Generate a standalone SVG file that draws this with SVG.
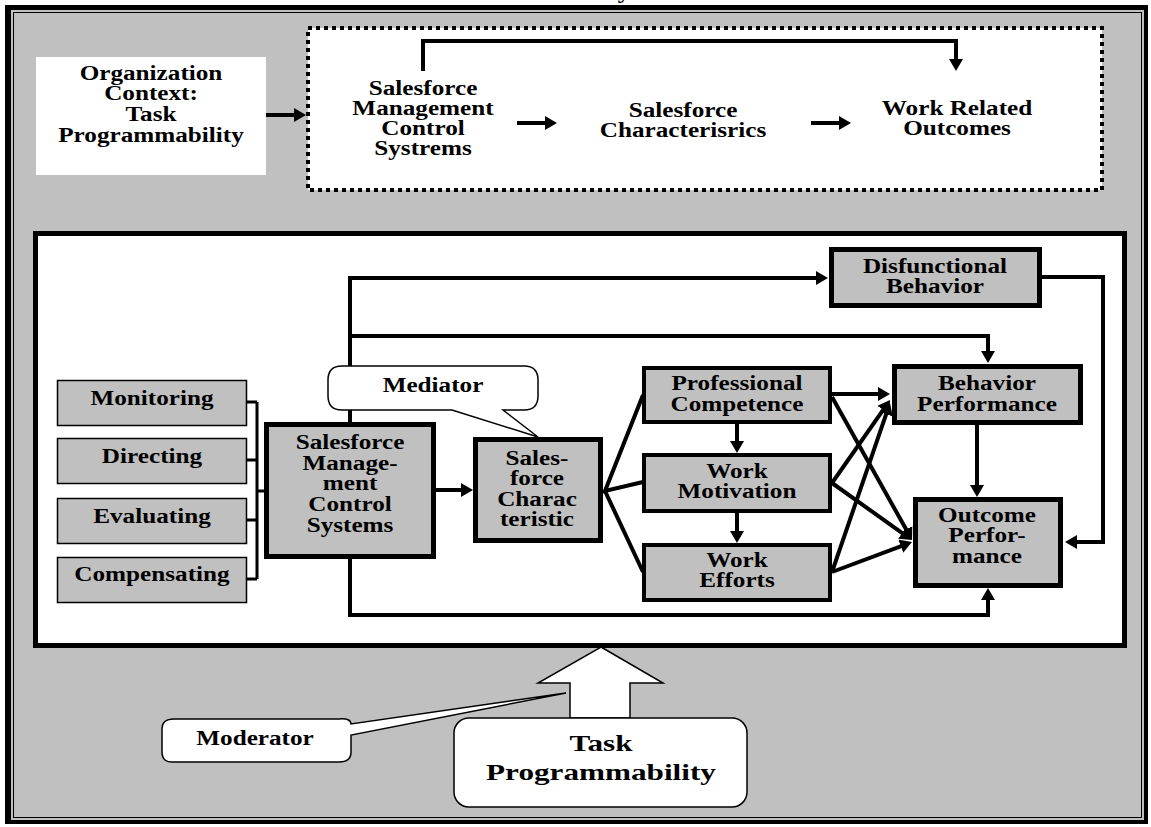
<svg xmlns="http://www.w3.org/2000/svg" width="1151" height="827" viewBox="0 0 1151 827">
  <defs>
    <style>
      .t { font-family: "Liberation Serif", "Times New Roman", serif; font-weight: bold; font-size: 20px; text-anchor: middle; fill: #000; }
      .big { font-size: 24px; }
      .box { fill: #c0c0c0; stroke: #000; stroke-width: 5; }
      .mid { fill: #c0c0c0; stroke: #000; stroke-width: 4; }
      .sm { fill: #c0c0c0; stroke: #000; stroke-width: 1.5; }
      .ln { fill: none; stroke: #000; stroke-width: 4; }
      .ln3 { fill: none; stroke: #000; stroke-width: 3; }
      .call { fill: #fff; stroke: #000; stroke-width: 1.5; }
    </style>
    <marker id="ah" viewBox="0 0 12 14" markerWidth="12" markerHeight="14" refX="7" refY="7" orient="auto" markerUnits="userSpaceOnUse">
      <path d="M0,0 L12,7 L0,14 Z" fill="#000"/>
    </marker>
  </defs>

  <!-- page frame -->
  <g id="frame">
    <rect x="5" y="5" width="1143" height="819" fill="#c0c0c0"/>
    <rect x="5" y="5" width="6" height="819" fill="#000"/>
    <rect x="5" y="5" width="1143" height="5" fill="#000"/>
    <rect x="1144" y="5" width="4" height="819" fill="#000"/>
    <rect x="5" y="820" width="1143" height="4" fill="#000"/>
    <rect x="13.5" y="12.5" width="1128" height="805" fill="none" stroke="#000" stroke-width="1"/>
  </g>
  <text class="t" transform="matrix(1.26 0 0 1 624 0)" x="0" y="-2">y</text>

  <!-- upper overview -->
  <g id="org-context">
    <rect x="36" y="57" width="230" height="118" fill="#fff"/>
    <text class="t" transform="matrix(1.26 0 0 1 151 0)"><tspan x="0" y="80">Organization</tspan><tspan x="0" y="100">Context:</tspan><tspan x="0" y="121">Task</tspan><tspan x="0" y="142">Programmability</tspan></text>
  </g>
  <g id="overview">
    <rect x="308" y="28" width="794" height="162" fill="#fff" stroke="#000" stroke-width="4" stroke-dasharray="4 4"/>
  </g>
  <g id="ov-smcs">
    <text class="t" transform="matrix(1.26 0 0 1 423 0)"><tspan x="0" y="95">Salesforce</tspan><tspan x="0" y="115">Management</tspan><tspan x="0" y="135">Control</tspan><tspan x="0" y="155">Systrems</tspan></text>
  </g>
  <g id="ov-char">
    <text class="t" transform="matrix(1.26 0 0 1 683 0)"><tspan x="0" y="117">Salesforce</tspan><tspan x="0" y="137">Characterisrics</tspan></text>
  </g>
  <g id="ov-out">
    <text class="t" transform="matrix(1.26 0 0 1 957 0)"><tspan x="0" y="115">Work Related</tspan><tspan x="0" y="135">Outcomes</tspan></text>
  </g>

  <!-- model panel -->
  <g id="panel">
    <rect x="35.5" y="233.5" width="1089" height="412" fill="#fff" stroke="#000" stroke-width="5"/>
  </g>

  <!-- connectors -->
  <g id="connectors">
    <path class="ln" d="M266,115 H301" marker-end="url(#ah)"/>
    <path class="ln" d="M423,71 V41 H956 V66" marker-end="url(#ah)"/>
    <path class="ln" d="M517,123 H552" marker-end="url(#ah)"/>
    <path class="ln" d="M811,123 H846" marker-end="url(#ah)"/>

    <path class="ln" d="M350,617 V278 H823" marker-end="url(#ah)"/>
    <path class="ln" d="M350,336 H988 V358" marker-end="url(#ah)"/>
    <path class="ln" d="M350,615 H988 V593" marker-end="url(#ah)"/>
    <path class="ln" d="M1042,277 H1103 V542 H1070" marker-end="url(#ah)"/>
    <path class="ln" d="M977,425 V492" marker-end="url(#ah)"/>
    <path class="ln" d="M737,424 V448" marker-end="url(#ah)"/>
    <path class="ln" d="M737,513 V538" marker-end="url(#ah)"/>
    <path class="ln3" d="M246,402 H257 M246,460 H257 M246,520 H257 M246,579 H257 M257,402 V579 M257,491 H265"/>
    <path class="ln" d="M436,490 H468" marker-end="url(#ah)"/>
    <path class="ln" d="M643,395 L605,491 L643,482 M605,491 L643,572"/>
    <path class="ln" d="M832,394 H885" marker-end="url(#ah)"/>
    <path class="ln" d="M832,397 L909.6,535.6" marker-end="url(#ah)"/>
    <path class="ln" d="M832,483 L887.2,404.1" marker-end="url(#ah)"/>
    <path class="ln" d="M832,483 L907.9,537.1" marker-end="url(#ah)"/>
    <path class="ln" d="M832,572 L888.4,407.7" marker-end="url(#ah)"/>
    <path class="ln" d="M832,572 L907.3,543.8" marker-end="url(#ah)"/>
  </g>

  <!-- control activities -->
  <g id="monitoring">
    <rect class="sm" x="57.5" y="380.5" width="189" height="45"/>
    <text class="t" transform="matrix(1.26 0 0 1 152 0)" x="0" y="405">Monitoring</text>
  </g>
  <g id="directing">
    <rect class="sm" x="57.5" y="438.5" width="189" height="45"/>
    <text class="t" transform="matrix(1.26 0 0 1 152 0)" x="0" y="463">Directing</text>
  </g>
  <g id="evaluating">
    <rect class="sm" x="57.5" y="498.5" width="189" height="45"/>
    <text class="t" transform="matrix(1.26 0 0 1 152 0)" x="0" y="523">Evaluating</text>
  </g>
  <g id="compensating">
    <rect class="sm" x="57.5" y="557.5" width="189" height="45"/>
    <text class="t" transform="matrix(1.26 0 0 1 152 0)" x="0" y="581">Compensating</text>
  </g>

  <g id="smcs">
    <rect class="box" x="266.5" y="424.5" width="167" height="132"/>
    <text class="t" transform="matrix(1.26 0 0 1 350 0)"><tspan x="0" y="449">Salesforce</tspan><tspan x="0" y="470">Manage-</tspan><tspan x="0" y="490">ment</tspan><tspan x="0" y="511">Control</tspan><tspan x="0" y="532">Systems</tspan></text>
  </g>

  <g id="mediator">
    <path class="call" d="M342,366 H524 Q538,366 538,380 V396 Q538,410 524,410 H503 L538,437 L452,410 H342 Q328,410 328,396 V380 Q328,366 342,366 Z"/>
    <text class="t" transform="matrix(1.26 0 0 1 433 0)" x="0" y="392">Mediator</text>
  </g>

  <g id="sf-char">
    <rect class="box" x="475.5" y="439.5" width="125" height="101"/>
    <text class="t" transform="matrix(1.26 0 0 1 537 0)"><tspan x="0" y="465">Sales-</tspan><tspan x="0" y="485">force</tspan><tspan x="0" y="506">Charac</tspan><tspan x="0" y="526">teristic</tspan></text>
  </g>

  <g id="competence">
    <rect class="mid" x="644" y="368" width="186" height="54"/>
    <text class="t" transform="matrix(1.26 0 0 1 737 0)"><tspan x="0" y="390">Professional</tspan><tspan x="0" y="411">Competence</tspan></text>
  </g>
  <g id="motivation">
    <rect class="mid" x="644" y="455" width="186" height="56"/>
    <text class="t" transform="matrix(1.26 0 0 1 737 0)"><tspan x="0" y="478">Work</tspan><tspan x="0" y="498">Motivation</tspan></text>
  </g>
  <g id="efforts">
    <rect class="mid" x="644" y="545" width="186" height="55"/>
    <text class="t" transform="matrix(1.26 0 0 1 737 0)"><tspan x="0" y="567">Work</tspan><tspan x="0" y="587">Efforts</tspan></text>
  </g>

  <g id="disfunctional">
    <rect class="box" x="831.5" y="249.5" width="208" height="56"/>
    <text class="t" transform="matrix(1.26 0 0 1 935 0)"><tspan x="0" y="273">Disfunctional</tspan><tspan x="0" y="293">Behavior</tspan></text>
  </g>
  <g id="behavior">
    <rect class="box" x="894.5" y="366.5" width="186" height="56"/>
    <text class="t" transform="matrix(1.26 0 0 1 987 0)"><tspan x="0" y="390">Behavior</tspan><tspan x="0" y="411">Performance</tspan></text>
  </g>
  <g id="outcome">
    <rect class="box" x="915.5" y="499.5" width="145" height="86"/>
    <text class="t" transform="matrix(1.26 0 0 1 987 0)"><tspan x="0" y="522">Outcome</tspan><tspan x="0" y="542">Perfor-</tspan><tspan x="0" y="563">mance</tspan></text>
  </g>

  <!-- moderating context -->
  <g id="moderator-arrow">
    <polygon class="call" points="601,647 663,683 630,683 630,718 570,718 570,683 538,683"/>
  </g>
  <g id="task">
    <rect class="call" x="454" y="718" width="293" height="89" rx="15"/>
    <text class="t big" transform="matrix(1.3 0 0 1 601 0)"><tspan x="0" y="751">Task</tspan><tspan x="0" y="780">Programmability</tspan></text>
  </g>
  <g id="moderator">
    <path class="call" d="M174,719 H339 Q351,718 351,724 L566,693 L351,735 V752 Q351,762 339,762 H174 Q162,763 162,752 V729 Q162,719 174,719 Z"/>
    <text class="t" transform="matrix(1.26 0 0 1 255 0)" x="0" y="745">Moderator</text>
  </g>
</svg>
